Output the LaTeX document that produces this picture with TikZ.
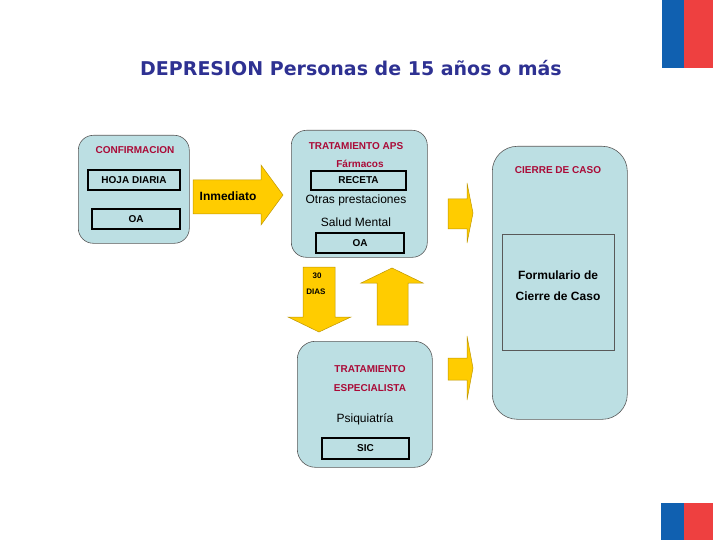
\documentclass[tikz,border=0pt]{standalone}
\usepackage{fontspec}
\setmainfont{Liberation Sans}
\newfontfamily\titlefont{DejaVu Sans}
\usetikzlibrary{positioning}

\definecolor{panelblue}{RGB}{188,223,227}
\definecolor{headred}{RGB}{170,10,55}
\definecolor{titleblue}{RGB}{46,49,146}
\definecolor{arrowyellow}{RGB}{255,204,0}
\definecolor{arrowedge}{RGB}{190,150,0}
\definecolor{flagblue}{RGB}{16,96,176}
\definecolor{flagred}{RGB}{238,64,64}

\tikzset{
  panel/.style={rectangle, draw=black!65, fill=panelblue, line width=0.6pt, anchor=north west},
  formbox/.style={rectangle, draw=black, line width=1.4pt, fill=panelblue, inner sep=0pt, font=\bfseries\fontsize{10}{12}\selectfont},
  headtext/.style={text=headred, font=\bfseries\fontsize{10}{12}\selectfont},
  plaintext/.style={font=\fontsize{12}{14}\selectfont},
  boldtext/.style={font=\bfseries\fontsize{12}{14}\selectfont},
  yarrow/.style={fill=arrowyellow, draw=arrowedge, line width=0.5pt}
}

\begin{document}
\begin{tikzpicture}[x=1pt, y=-1pt]
\useasboundingbox (0, 0) rectangle (720, 540);

% flags
\fill[flagblue] (662, 0) rectangle (684, 68);
\fill[flagred] (684, 0) rectangle (713, 68);
\fill[flagblue] (661, 503) rectangle (684, 540);
\fill[flagred] (684, 503) rectangle (713, 540);

\node at (351, 68) [text=titleblue, font=\titlefont\bfseries\fontsize{19}{22}\selectfont] (title) {DEPRESION Personas de 15 años o más};

% panels
\node at (78, 135) [panel, rounded corners=15pt, minimum width=111pt, minimum height=108pt] (confirmacion) {};
\node at (291, 130) [panel, rounded corners=15pt, minimum width=136pt, minimum height=127pt] (aps) {};
\node at (492, 146) [panel, rounded corners=25pt, minimum width=135pt, minimum height=273pt] (cierre) {};
\node at (297, 341) [panel, rounded corners=18pt, minimum width=135pt, minimum height=126pt] (especialista) {};
\node at (502, 234) [panel, minimum width=112pt, minimum height=116pt] (formulario) {};

\node at (135, 150) [headtext] (confirmacionlabel) {CONFIRMACION};
\node at (134, 180) [formbox, minimum width=92pt, minimum height=20pt] (hoja) {HOJA DIARIA};
\node at (136, 219) [formbox, minimum width=88pt, minimum height=20pt] (oa1) {OA};

\node at (356, 146) [headtext] (apslabel) {TRATAMIENTO APS};
\node at (360, 164) [headtext] (farmacos) {Fármacos};
\node at (358.5, 180.5) [formbox, minimum width=95pt, minimum height=19pt] (receta) {RECETA};
\node at (356, 200) [plaintext] (otras) {Otras prestaciones};
\node at (356, 222) [plaintext] (salud) {Salud Mental};
\node at (360, 243) [formbox, minimum width=88pt, minimum height=20pt] (oa2) {OA};

\node at (558, 170) [headtext] (cierrelabel) {CIERRE DE CASO};
\node at (558, 275) [boldtext] (form1) {Formulario de};
\node at (558, 296) [boldtext] (form2) {Cierre de Caso};

\node at (370, 369) [headtext] (esp1) {TRATAMIENTO};
\node at (370, 388) [headtext] (esp2) {ESPECIALISTA};
\node at (365, 419) [plaintext] (psiquiatria) {Psiquiatría};
\node at (365.5, 448.5) [formbox, minimum width=87pt, minimum height=21pt] (sic) {SIC};

% block arrows
\draw[yarrow] (193, 180) -- (261, 180) -- (261, 165) -- (283, 195) -- (261, 225) -- (261, 214) -- (193, 214) -- cycle;
\node at (228, 196) [boldtext] (inmediato) {Inmediato};

\draw[yarrow] (448, 199) -- (467, 199) -- (467, 183) -- (473, 213) -- (467, 243) -- (467, 229) -- (448, 229) -- cycle;
\draw[yarrow] (448, 358) -- (467, 358) -- (467, 336) -- (473, 368) -- (467, 400) -- (467, 380) -- (448, 380) -- cycle;

\draw[yarrow] (303, 267) -- (335, 267) -- (335, 317) -- (351, 317) -- (319, 332) -- (288, 317) -- (303, 317) -- cycle;
\node at (317, 276) [font=\bfseries\fontsize{8}{9}\selectfont] (treinta) {30};
\node at (316, 292) [font=\bfseries\fontsize{8}{9}\selectfont] (dias) {DIAS};

\draw[yarrow] (377, 325) -- (408, 325) -- (408, 283) -- (423, 283) -- (392, 268) -- (361, 283) -- (377, 283) -- cycle;
\end{tikzpicture}
\end{document}
